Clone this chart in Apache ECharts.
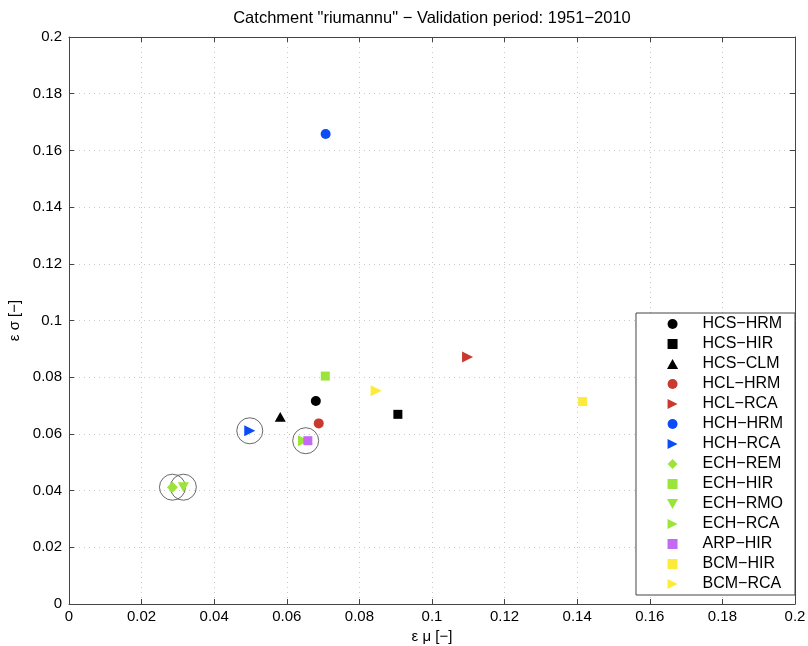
<!DOCTYPE html>
<html>
<head>
<meta charset="utf-8">
<script src="https://cdn.jsdelivr.net/npm/echarts@6/dist/echarts.min.js"></script>
<style>
	html, body { margin: 0; padding: 0; background: #fff; }
	#chart { width: 808px; height: 646px; }
</style>
</head>
<body>
<div id="chart"></div>
<script>
	// model chains (legend order)
	let chains = ['HCS−HRM', 'HCS−HIR', 'HCS−CLM', 'HCL−HRM', 'HCL−RCA', 'HCH−HRM', 'HCH−RCA',
		'ECH−REM', 'ECH−HIR', 'ECH−RMO', 'ECH−RCA', 'ARP−HIR', 'BCM−HIR', 'BCM−RCA'];
	// error on mean (x) and on standard deviation (y)
	let eps_mu = [0.068, 0.0906, 0.0582, 0.0688, 0.1098, 0.0707, 0.0498,
		0.0285, 0.0706, 0.0315, 0.0646, 0.0658, 0.1415, 0.0846];
	let eps_sigma = [0.0716, 0.0669, 0.0660, 0.0637, 0.0871, 0.1658, 0.0611,
		0.0412, 0.0804, 0.0412, 0.0576, 0.0576, 0.0714, 0.0752];
	// highlighted (circled) chains
	let circled_mu = [0.0498, 0.0652, 0.0285, 0.0315];
	let circled_sigma = [0.0611, 0.0576, 0.0412, 0.0412];

	// marker shapes (paths keep their aspect in the legend too)
	let sq = 'path://M0,0L10,0L10,10L0,10Z';
	let tri_up = 'path://M5,0L10,9L0,9Z';
	let tri_right = 'path://M0,0L10,5L0,10Z';
	let tri_down = 'path://M0,0L10,0L5,9Z';
	let diamond = 'path://M5,0L10,5L5,10L0,5Z';
	let marker_styles = [
		{symbol: 'circle', color: '#000000', size: 10},
		{symbol: sq, color: '#000000', size: 9},
		{symbol: tri_up, color: '#000000', size: 11},
		{symbol: 'circle', color: '#c9392e', size: 10},
		{symbol: tri_right, color: '#c9392e', size: 11},
		{symbol: 'circle', color: '#0a4cf5', size: 10},
		{symbol: tri_right, color: '#0a4cf5', size: 11},
		{symbol: diamond, color: '#9be53a', size: 11},
		{symbol: sq, color: '#9be53a', size: 9},
		{symbol: tri_down, color: '#9be53a', size: 11},
		{symbol: tri_right, color: '#9be53a', size: 11},
		{symbol: sq, color: '#c46af2', size: 9},
		{symbol: sq, color: '#fdeb3a', size: 9},
		{symbol: tri_right, color: '#fdeb3a', size: 11}
	];

	let font = "'Liberation Sans', Arial, Helvetica, sans-serif";
	let chart = echarts.init(document.getElementById('chart'));

	let series = [];
	// open circles behind the highlighted markers
	series.push({
		name: '_circled',
		type: 'scatter',
		symbol: 'circle',
		symbolSize: 26,
		silent: true,
		z: 1,
		itemStyle: {color: 'rgba(255,255,255,0)', borderColor: '#444', borderWidth: 1},
		data: circled_mu.map(function(v, i){ return [v, circled_sigma[i]]; })
	});
	for(let i = 0; i < chains.length; i++){
		let st = marker_styles[i];
		series.push({
			name: chains[i],
			type: 'scatter',
			symbol: st.symbol,
			symbolSize: st.size,
			symbolKeepAspect: true,
			z: 3,
			itemStyle: {color: st.color, opacity: 1},
			data: [[eps_mu[i], eps_sigma[i]]]
		});
	}

	let tick_fmt = function(v){ return String(+v.toFixed(2)); };
	let axis_common = {
		type: 'value',
		min: 0,
		max: 0.2,
		interval: 0.02,
		axisLine: {show: true, onZero: false, lineStyle: {color: '#444', width: 1}},
		axisTick: {show: true, inside: true, length: 5, lineStyle: {color: '#444'}},
		splitLine: {show: true, lineStyle: {color: '#c8c8c8', type: [1, 4], width: 1}}
	};

	let option = {
		backgroundColor: '#fff',
		animation: false,
		title: {
			text: 'Catchment "riumannu" − Validation period: 1951−2010',
			left: 427,
			textAlign: 'center',
			top: 5,
			textStyle: {fontSize: 16.5, fontWeight: 'normal', color: '#000', fontFamily: font}
		},
		grid: {left: 69, right: 13, top: 37, bottom: 42, outerBoundsMode: 'none'},
		legend: {
			orient: 'vertical',
			right: 13,
			bottom: 51,
			data: chains,
			itemWidth: 50,
			itemHeight: 10,
			itemGap: 4,
			padding: [3, 12, 3, 31],
			backgroundColor: '#fff',
			borderColor: '#444',
			borderWidth: 1,
			borderRadius: 0,
			textStyle: {fontSize: 16, color: '#000', fontFamily: font, lineHeight: 16}
		},
		xAxis: [
			Object.assign({}, axis_common, {
				position: 'bottom',
				name: 'ε μ [−]',
				nameLocation: 'middle',
				nameGap: 18,
				nameTextStyle: {fontSize: 15, color: '#000', fontFamily: font},
				axisLabel: {color: '#000', fontSize: 15, fontFamily: font, margin: 5, formatter: tick_fmt}
			}),
			Object.assign({}, axis_common, {
				position: 'top',
				axisLabel: {show: false},
				splitLine: {show: false}
			})
		],
		yAxis: [
			Object.assign({}, axis_common, {
				position: 'left',
				name: 'ε σ [−]',
				nameLocation: 'middle',
				nameGap: 40,
				nameTextStyle: {fontSize: 15, color: '#000', fontFamily: font},
				axisLabel: {color: '#000', fontSize: 15, fontFamily: font, margin: 7, formatter: tick_fmt}
			}),
			Object.assign({}, axis_common, {
				position: 'right',
				axisLabel: {show: false},
				splitLine: {show: false}
			})
		],
		series: series
	};
	chart.setOption(option);
</script>
</body>
</html>
